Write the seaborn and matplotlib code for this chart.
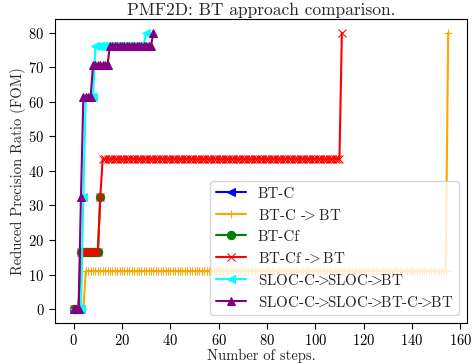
import numpy as np
import pandas as pd
import matplotlib
matplotlib.use("Agg")
import matplotlib.pyplot as plt
import seaborn as sns

# Reduced precision ratio reached at each step, one array per approach
bt_c = [0, 0, 0, 0]
bt_c_bt = [0, 0, 0, 0, 0] + [11] * 150 + [80]
bt_cf = [0, 0, 0] + [16.5] * 8 + [32.5]
bt_cf_bt = [0, 0, 0] + [16.5] * 8 + [32.5] + [43.5] * 99 + [80]
sloc_bt = [0, 0, 0, 0, 32.5] + [61.5] * 4 + [76.3] * 21 + [80]
sloc_bt_c_bt = [0, 0, 0, 32.5] + [61.5] * 4 + [70.6] * 7 + [76.3] * 18 + [80]

# cmr10 has no '>' glyph at its ASCII slot, so draw it through mathtext
# with the relation spacing taken back out
GT = r"$\!\!>\!\!$"
labels = ["BT-C", f"BT-C -{GT} BT", "BT-Cf", f"BT-Cf -{GT} BT",
          f"SLOC-C-{GT}SLOC-{GT}BT", f"SLOC-C-{GT}SLOC-{GT}BT-C-{GT}BT"]
series = [bt_c, bt_c_bt, bt_cf, bt_cf_bt, sloc_bt, sloc_bt_c_bt]
colors = ["blue", "orange", "green", "red", "cyan", "purple"]
markers = ["<", "+", "o", "x", "<", "^"]

sns.set_style("ticks")
plt.rcParams.update({
    "font.family": "serif",
    "font.serif": ["cmr10"],
    "mathtext.fontset": "cm",
    "axes.formatter.use_mathtext": True,
    "axes.unicode_minus": False,
    "font.size": 10.5,
})

fig = plt.figure(figsize=(4.74, 3.64), dpi=100)
ax = fig.add_axes([0.116, 0.113, 0.869, 0.835])

for lab, vals, col, mk in zip(labels, series, colors, markers):
    df = pd.DataFrame({"step": np.arange(len(vals)), "ratio": vals})
    sns.lineplot(data=df, x="step", y="ratio", color=col, marker=mk,
                 markersize=6, linewidth=1.5, markeredgecolor=col,
                 label=lab, ax=ax, sort=False)

for s in ax.spines.values():
    s.set_color("black")
ax.tick_params(direction="out", length=4, colors="black", labelsize=10.5)
ax.set_xticks(range(0, 161, 20))
ax.set_yticks(range(0, 81, 10))
ax.set_title("PMF2D: BT approach comparison.", fontsize=12.5, pad=3)
ax.set_xlabel("Number of steps.", fontsize=10.5, labelpad=0)
ax.set_ylabel("Reduced Precision Ratio (FOM)", fontsize=10.5, labelpad=2)
ax.legend(loc="lower right", fontsize=10.8, frameon=True)

fig.savefig("out.png", dpi=100)
